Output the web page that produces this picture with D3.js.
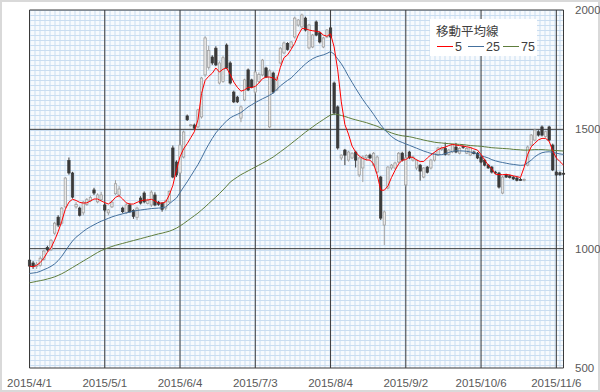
<!DOCTYPE html>
<html><head><meta charset="utf-8">
<script src="https://cdn.jsdelivr.net/npm/d3@7"></script>
<style>body{margin:0;background:#fff}svg{display:block}</style>
</head><body><svg id="c" width="600" height="392"></svg>
<script>
const dates = ["2015/4/1","2015/4/2","2015/4/3","2015/4/6","2015/4/7","2015/4/8","2015/4/9","2015/4/10","2015/4/13","2015/4/14","2015/4/15","2015/4/16","2015/4/17","2015/4/20","2015/4/21","2015/4/22","2015/4/23","2015/4/24","2015/4/27","2015/4/28","2015/4/30",
"2015/5/1","2015/5/7","2015/5/8","2015/5/11","2015/5/12","2015/5/13","2015/5/14","2015/5/15","2015/5/18","2015/5/19","2015/5/20","2015/5/21","2015/5/22","2015/5/25","2015/5/26","2015/5/27","2015/5/28","2015/5/29",
"2015/6/1","2015/6/2","2015/6/3","2015/6/4","2015/6/5","2015/6/8","2015/6/9","2015/6/10","2015/6/11","2015/6/12","2015/6/15","2015/6/16","2015/6/17","2015/6/18","2015/6/19","2015/6/22","2015/6/23","2015/6/24","2015/6/25","2015/6/26","2015/6/29","2015/6/30",
"2015/7/1","2015/7/2","2015/7/3","2015/7/6","2015/7/7","2015/7/8","2015/7/9","2015/7/10","2015/7/13","2015/7/14","2015/7/15","2015/7/16","2015/7/17","2015/7/21","2015/7/22","2015/7/23","2015/7/24","2015/7/27","2015/7/28","2015/7/29","2015/7/30","2015/7/31",
"2015/8/3","2015/8/4","2015/8/5","2015/8/6","2015/8/7","2015/8/10","2015/8/11","2015/8/12","2015/8/13","2015/8/14","2015/8/17","2015/8/18","2015/8/19","2015/8/20","2015/8/21","2015/8/24","2015/8/25","2015/8/26","2015/8/27","2015/8/28","2015/8/31",
"2015/9/1","2015/9/2","2015/9/3","2015/9/4","2015/9/7","2015/9/8","2015/9/9","2015/9/10","2015/9/11","2015/9/14","2015/9/15","2015/9/16","2015/9/17","2015/9/18","2015/9/24","2015/9/25","2015/9/28","2015/9/29","2015/9/30",
"2015/10/1","2015/10/2","2015/10/5","2015/10/6","2015/10/7","2015/10/8","2015/10/9","2015/10/13","2015/10/14","2015/10/15","2015/10/16","2015/10/19","2015/10/20","2015/10/21","2015/10/22","2015/10/23","2015/10/26","2015/10/27","2015/10/28","2015/10/29","2015/10/30",
"2015/11/2","2015/11/4","2015/11/5","2015/11/6","2015/11/9","2015/11/10"];

const openP = [952,940,925,930,955,1005,995,1065,1132,1107,
1175,1370,1317,1175,1170,1150,1185,1200,1246,1196,
1205,1183,1150,1175,1230,1225,1170,1150,1183,1160,
1130,1212,1233,1190,1183,1225,1195,1191,1170,1196,
1422,1363,1317,1384,1556,1516,1518,1510,1552,1728,
1760,1803,1840,1694,1700,1853,1778,1656,1635,1547,
1623,1749,1707,1656,1700,1728,1757,1510,1736,1665,
1778,1820,1860,1845,1887,1937,1929,1966,1841,1845,
1950,1904,1845,1887,1925,1694,1594,1380,1413,1371,
1380,1405,1309,1338,1380,1392,1350,1321,1300,1099,
1254,1338,1338,1363,1400,1267,1405,1371,1338,1350,
1300,1342,1338,1371,1392,1415,1420,1395,1405,1426,
1400,1428,1400,1392,1405,1400,1384,1371,1350,1342,
1321,1317,1233,1309,1305,1300,1296,1290,1286,1350,
1434,1455,1490,1510,1470,1510,1434,1321,1318,1316];

const highP = [962,948,945,968,995,1012,1040,1112,1140,1175,
1300,1382,1322,1195,1176,1200,1212,1222,1255,1232,
1238,1190,1166,1202,1287,1262,1176,1190,1190,1165,
1176,1220,1240,1210,1245,1236,1200,1195,1205,1245,
1432,1370,1440,1495,1562,1522,1524,1586,1720,1890,
1850,1810,1848,1785,1808,1860,1785,1662,1640,1600,
1712,1755,1712,1745,1738,1795,1762,1752,1742,1722,
1845,1868,1865,1870,1972,1962,1985,1972,1942,1900,
1956,1910,1888,1920,1930,1700,1600,1395,1418,1410,
1404,1410,1385,1390,1395,1398,1405,1390,1305,1160,
1346,1355,1364,1405,1406,1385,1410,1390,1376,1355,
1342,1346,1376,1405,1427,1428,1445,1418,1438,1443,
1425,1432,1425,1426,1410,1405,1390,1376,1355,1346,
1326,1322,1305,1314,1310,1304,1300,1296,1294,1432,
1480,1502,1496,1516,1494,1515,1440,1326,1323,1320];

const lowP = [920,915,915,925,950,988,990,1058,1090,1100,
1170,1310,1210,1168,1135,1140,1180,1195,1225,1190,
1200,1155,1140,1170,1225,1215,1148,1145,1150,1125,
1120,1185,1190,1185,1175,1178,1180,1155,1160,1190,
1295,1300,1310,1378,1535,1512,1500,1505,1545,1720,
1750,1770,1765,1688,1695,1752,1688,1610,1610,1530,
1618,1660,1672,1650,1695,1722,1715,1505,1650,1660,
1772,1815,1830,1840,1880,1930,1925,1910,1835,1840,
1890,1860,1840,1882,1882,1560,1415,1370,1350,1365,
1375,1340,1300,1279,1370,1375,1345,1315,1120,1015,
1248,1330,1332,1358,1365,1260,1375,1365,1330,1285,
1295,1315,1332,1365,1388,1410,1390,1390,1400,1400,
1395,1418,1396,1388,1395,1375,1358,1345,1335,1315,
1312,1252,1228,1296,1294,1288,1282,1284,1282,1345,
1428,1450,1470,1470,1465,1450,1325,1305,1305,1305];

const closeP = [927,925,935,960,990,995,1035,1107,1099,1170,
1296,1317,1216,1185,1140,1195,1205,1215,1233,1225,
1225,1162,1162,1195,1272,1250,1155,1183,1155,1135,
1170,1191,1196,1202,1237,1183,1186,1165,1200,1240,
1300,1309,1434,1489,1540,1519,1505,1581,1715,1883,
1830,1778,1770,1778,1800,1757,1694,1615,1615,1594,
1707,1665,1677,1740,1730,1790,1719,1745,1656,1715,
1840,1862,1835,1866,1966,1958,1979,1916,1937,1895,
1895,1866,1883,1916,1887,1568,1422,1392,1392,1405,
1400,1371,1380,1384,1390,1380,1400,1384,1128,1154,
1342,1350,1359,1400,1371,1380,1380,1384,1371,1325,
1338,1320,1371,1400,1422,1422,1395,1413,1434,1405,
1420,1424,1420,1422,1398,1380,1363,1350,1338,1321,
1317,1258,1300,1300,1298,1292,1286,1288,1290,1426,
1476,1497,1476,1476,1490,1455,1330,1309,1310,1312];

const ma5 = [927,924,930,942,960,985,1003,1035,1071,1115,
1165,1195,1207,1202,1194,1191,1192,1200,1208,1208,
1200,1193,1187,1198,1215,1222,1208,1192,1187,1187,
1194,1200,1204,1204,1207,1200,1191,1191,1196,1225,
1265,1330,1385,1418,1440,1465,1490,1540,1650,1705,
1722,1735,1757,1740,1752,1757,1730,1698,1676,1660,
1665,1676,1675,1680,1694,1712,1719,1719,1715,1705,
1760,1800,1812,1835,1860,1895,1922,1922,1916,1913,
1911,1908,1895,1890,1900,1845,1749,1615,1520,1480,
1430,1405,1388,1378,1372,1371,1355,1310,1245,1245,
1262,1298,1328,1355,1371,1373,1385,1382,1372,1365,
1365,1380,1393,1404,1415,1422,1425,1432,1437,1434,
1432,1430,1427,1424,1418,1413,1394,1372,1350,1335,
1312,1310,1310,1311,1309,1305,1302,1298,1340,1395,
1427,1442,1456,1462,1462,1450,1410,1380,1365,1350];

const ma25 = [896,898,900,905,912,918,926,936,950,968,
990,1012,1032,1048,1060,1072,1083,1092,1100,1108,
1115,1121,1127,1133,1138,1142,1146,1150,1153,1157,
1160,1162,1164,1166,1168,1169,1170,1171,1175,1188,
1200,1212,1235,1258,1280,1304,1328,1352,1380,1410,
1437,1462,1485,1503,1520,1535,1548,1556,1563,1570,
1582,1594,1603,1612,1620,1628,1635,1643,1652,1667,
1682,1694,1705,1715,1730,1745,1760,1774,1786,1796,
1803,1808,1812,1818,1826,1815,1795,1775,1750,1722,
1697,1672,1648,1625,1604,1584,1563,1541,1519,1500,
1484,1470,1459,1451,1445,1439,1433,1427,1421,1415,
1409,1404,1399,1395,1393,1394,1398,1403,1408,1410,
1410,1409,1408,1405,1402,1396,1390,1385,1380,1373,
1368,1364,1361,1358,1355,1353,1351,1349,1350,1360,
1371,1385,1395,1402,1405,1406,1404,1400,1397,1395];

const ma75 = [857,860,863,866,869,873,877,882,888,895,
903,912,921,930,939,948,957,966,975,984,
992,998,1004,1009,1014,1018,1022,1026,1030,1034,
1038,1042,1046,1050,1054,1058,1062,1065,1069,1073,
1079,1086,1095,1105,1116,1127,1138,1149,1162,1175,
1189,1203,1216,1231,1246,1262,1279,1290,1300,1310,
1318,1326,1334,1342,1350,1358,1366,1375,1384,1395,
1406,1417,1428,1440,1452,1464,1476,1488,1499,1510,
1521,1531,1541,1551,1560,1564,1562,1558,1554,1549,
1544,1540,1536,1532,1528,1523,1518,1513,1506,1498,
1491,1485,1480,1476,1473,1471,1469,1466,1462,1459,
1455,1452,1449,1446,1444,1443,1441,1440,1439,1438,
1437,1436,1434,1432,1431,1430,1429,1427,1425,1423,
1422,1421,1420,1419,1418,1416,1415,1414,1413,1413,
1414,1415,1415,1415,1414,1413,1412,1411,1410,1409];

const tickDates = ["2015/4/1","2015/5/1","2015/6/4","2015/7/3","2015/8/4","2015/9/2","2015/10/6","2015/11/6"];
const yTicks = [500, 1000, 1500, 2000];
const legendTitle = "移動平均線";
const maNames = ["5", "25", "75"];
const maColors = ["#ff0000", "#44709d", "#5f7d3c"];

const W = 600, H = 392;
const pL = 29.5, pR = 563.5, pT = 10, pB = 368;
const svg = d3.select("#c");

svg.append("rect").attr("x", 1).attr("y", 1).attr("width", W - 2).attr("height", H - 2)
  .attr("fill", "#fff").attr("stroke", "#d9d9d9").attr("stroke-width", 2);

const x = d3.scalePoint().domain(dates).range([pL, pR]);
const y = d3.scaleLinear().domain([500, 2000]).range([pB, pT]);

const defs = svg.append("defs");
const pat = defs.append("pattern").attr("id", "gp").attr("patternUnits", "userSpaceOnUse")
  .attr("x", pL).attr("y", pT).attr("width", 5).attr("height", 5);
pat.append("rect").attr("width", 5).attr("height", 5).attr("fill", "#f7fafd");
pat.append("path").attr("d", "M0,0.5H5M0.5,0V5").attr("stroke", "#c9ddf1").attr("stroke-width", 1);
svg.append("rect").attr("x", pL).attr("y", pT).attr("width", pR - pL).attr("height", pB - pT)
  .attr("fill", "url(#gp)");

const g = svg.append("g");
g.selectAll("line.v").data(tickDates).join("line").attr("class", "v")
  .attr("x1", d => x(d)).attr("x2", d => x(d)).attr("y1", pT).attr("y2", pB)
  .attr("stroke", "#3a3a3a").attr("stroke-width", 1);
g.selectAll("line.h").data(yTicks).join("line").attr("class", "h")
  .attr("x1", pL).attr("x2", pR).attr("y1", d => y(d)).attr("y2", d => y(d))
  .attr("stroke", "#3a3a3a").attr("stroke-width", 1);
g.append("line").attr("x1", pR).attr("x2", pR).attr("y1", pT).attr("y2", pB)
  .attr("stroke", "#3a3a3a");

const idx = d3.range(dates.length);
const bw = 2.4;
const cg = svg.append("g");
cg.selectAll("line.w").data(idx).join("line").attr("class", "w")
  .attr("x1", i => x(dates[i])).attr("x2", i => x(dates[i]))
  .attr("y1", i => y(highP[i])).attr("y2", i => y(lowP[i]))
  .attr("stroke", i => closeP[i] >= openP[i] ? "#a0a0a0" : "#3a3a3a").attr("stroke-width", 1);
cg.selectAll("rect.b").data(idx).join("rect").attr("class", "b")
  .attr("x", i => x(dates[i]) - bw / 2).attr("width", bw)
  .attr("y", i => y(Math.max(openP[i], closeP[i])))
  .attr("height", i => Math.max(1, Math.abs(y(openP[i]) - y(closeP[i]))))
  .attr("fill", i => closeP[i] >= openP[i] ? "#e4e4e4" : "#3a3a3a")
  .attr("stroke", i => closeP[i] >= openP[i] ? "#9a9a9a" : "#3a3a3a")
  .attr("stroke-width", 0.7);

const lineGen = d3.line().x((d, i) => x(dates[i])).y(d => y(d));
[[ma75, 2], [ma25, 1], [ma5, 0]].forEach(([arr, k]) => {
  svg.append("path").attr("d", lineGen(arr)).attr("fill", "none")
    .attr("stroke", maColors[k]).attr("stroke-width", 1);
});

const font = "'Liberation Sans', Arial, sans-serif";
svg.selectAll("text.x").data(tickDates).join("text").attr("class", "x")
  .attr("x", d => x(d)).attr("y", 387).attr("text-anchor", "middle")
  .attr("font-family", font).attr("font-size", 11.5).attr("fill", "#595959").text(d => d);
svg.selectAll("text.y").data(yTicks).join("text").attr("class", "y")
  .attr("x", 575).attr("y", d => y(d) + 4).attr("text-anchor", "start")
  .attr("font-family", font).attr("font-size", 11.5).attr("fill", "#595959").text(d => d);

const lg = svg.append("g");
lg.append("rect").attr("x", 430).attr("y", 19).attr("width", 107).attr("height", 37).attr("fill", "#fff");
lg.append("text").attr("x", 436).attr("y", 36).attr("font-family", "'Noto Sans CJK JP', sans-serif")
  .attr("font-size", 12.5).attr("fill", "#404040").text(legendTitle);
const lx = [437, 468, 503];
maNames.forEach((n, k) => {
  lg.append("line").attr("x1", lx[k]).attr("x2", lx[k] + 16).attr("y1", 46.5).attr("y2", 46.5)
    .attr("stroke", maColors[k]).attr("stroke-width", 1);
  lg.append("text").attr("x", lx[k] + 18).attr("y", 51).attr("font-family", font)
    .attr("font-size", 12.5).attr("fill", "#404040").text(n);
});
</script>
</body></html>
